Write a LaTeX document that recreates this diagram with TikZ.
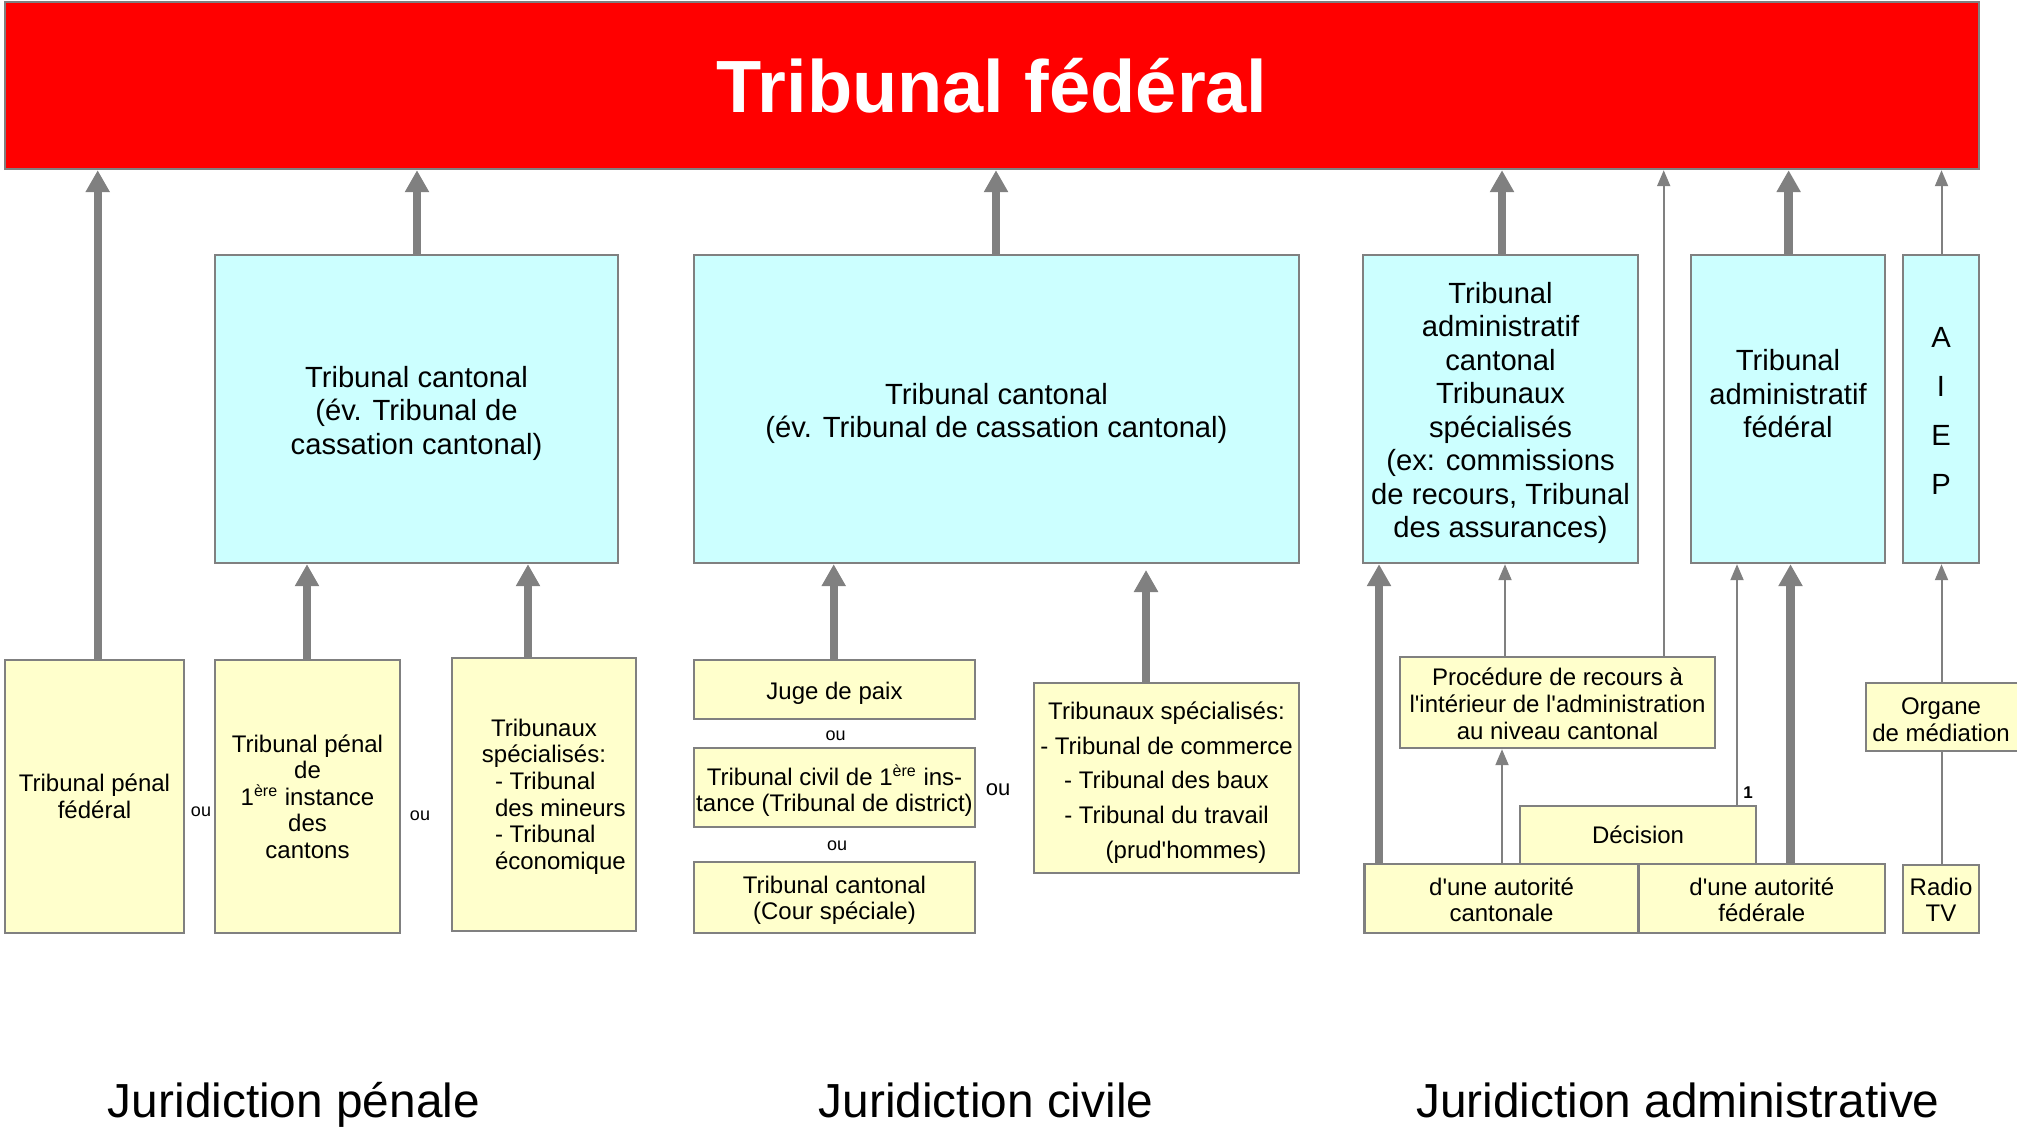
\documentclass[tikz,border=0pt]{standalone}
\usepackage{fontspec}
\setmainfont{Liberation Sans}
\usetikzlibrary{arrows.meta}
\definecolor{bordergray}{RGB}{128,128,128}
\definecolor{arrowgray}{RGB}{128,128,128}
\definecolor{boxyellow}{RGB}{255,255,204}
\definecolor{boxcyan}{RGB}{204,255,255}
\definecolor{titlered}{RGB}{255,0,0}
\newcommand{\sq}{\textquotesingle}
% box from corner (x1,y1) to corner (x2,y2), in pixels; optional: text lowered by [pt]
\newcommand{\mybox}[8][0]{%
  \pgfmathsetmacro{\mbcx}{(#4+#6)/2}\pgfmathsetmacro{\mbcy}{(#5+#7)/2}%
  \pgfmathsetmacro{\mbw}{(#6-#4)*0.5}\pgfmathsetmacro{\mbh}{(#7-#5)*0.5}%
  \node[#2, minimum width=\mbw pt, minimum height=\mbh pt] (#3) at (\mbcx,\mbcy) {};
  \node[#2, draw=none, fill=none, minimum width=0pt, minimum height=0pt, yshift=-#1pt] (#3t) at (#3.center) {#8};}
\begin{document}
\begin{tikzpicture}[x=0.5pt,y=-0.5pt,
  box/.style={draw=bordergray, line width=1.2pt, inner sep=0pt, align=center, text=black},
  ybox/.style={box, fill=boxyellow, font=\fontsize{12}{13.3}\selectfont},
  cbox/.style={box, fill=boxcyan, font=\fontsize{14.6}{16.75}\selectfont},
  thickarrow/.style={draw=arrowgray, line width=4.2pt, -{Triangle[width=11.5pt,length=11pt]}},
  thinarrow/.style={draw=arrowgray, line width=1pt, -{Triangle[width=6.5pt,length=8pt]}},
  thinline/.style={draw=arrowgray, line width=1pt},
  oulabel/.style={inner sep=0pt, font=\fontsize{9}{10}\selectfont},
  domainlabel/.style={inner sep=0pt, anchor=base, font=\fontsize{23.9}{26}\selectfont},
  ]
\useasboundingbox (0,0) rectangle (2017,1128);

% title
\mybox{box, fill=titlered, text=white, font=\bfseries\fontsize{37}{40}\selectfont}{tf}{5}{2}{1979}{169}{Tribunal fédéral}

% upper (cyan) boxes
\mybox[2.2]{cbox}{c1}{215}{255}{618}{563}{Tribunal cantonal\\(év. Tribunal de\\cassation cantonal)}
\mybox[2.2]{cbox}{c2}{694}{255}{1299}{563}{Tribunal cantonal\\(év. Tribunal de cassation cantonal)}
\mybox[2]{cbox}{c3}{1363}{255}{1638}{563}{Tribunal\\administratif\\cantonal\\Tribunaux\\spécialisés\\(ex: commissions\\de recours, Tribunal\\des assurances)}
\mybox[7.5]{cbox}{c4}{1691}{255}{1885}{563}{}
\node[inner sep=0pt, align=center, font=\fontsize{14.6}{16.75}\selectfont] (c4x) at (1788,394) {Tribunal\\administratif\\fédéral};
\mybox[1]{cbox, font=\fontsize{14.6}{24.35}\selectfont}{c5}{1903}{255}{1979}{563}{A\\I\\E\\P}

% lower (yellow) boxes: penal
\mybox{ybox}{pf}{5}{660}{184}{933}{Tribunal pénal\\fédéral}
\mybox{ybox}{pi}{215}{660}{400}{933}{Tribunal pénal\\de\\1\textsuperscript{ère} instance\\des\\cantons}
\mybox[1]{ybox}{ps}{452}{658}{636}{931}{Tribunaux\\spécialisés:\\
  \hspace*{17pt}\makebox[66pt][l]{- Tribunal}\\
  \hspace*{17pt}\makebox[66pt][l]{des mineurs}\\
  \hspace*{17pt}\makebox[66pt][l]{- Tribunal}\\
  \hspace*{17pt}\makebox[66pt][l]{économique}}

% civil
\mybox[1.9]{ybox}{jp}{694}{660}{975}{719}{Juge de paix}
\mybox[1.6]{ybox}{tc}{694}{748}{975}{827}{Tribunal civil de 1\textsuperscript{ère} ins-\\tance (Tribunal de district)}
\mybox[1.3]{ybox}{cc}{694}{862}{975}{933}{Tribunal cantonal\\(Cour spéciale)}
\mybox[2.2]{ybox, font=\fontsize{12}{17.35}\selectfont}{cs}{1034}{683}{1299}{873}{Tribunaux spécialisés:\\- Tribunal de commerce\\- Tribunal des baux\\- Tribunal du travail\\\hspace*{19.5pt}(prud\sq hommes)}

% administrative
\mybox[0.6]{ybox}{proc}{1400}{657}{1715}{748}{Procédure de recours à\\l\sq intérieur de l\sq administration\\au niveau cantonal}
\mybox[1.3]{ybox}{org}{1866}{683}{2024}{751}{\hspace*{-4pt}Organe\\\hspace*{-4pt}de médiation}
\mybox{ybox}{dec}{1520}{806}{1756}{864}{Décision}
\mybox[0.6]{ybox}{ac}{1364.5}{864}{1638.6}{933}{d\sq une autorité\\cantonale}
\mybox[0.6]{ybox}{af}{1638.6}{864}{1885}{933}{d\sq une autorité\\fédérale}
\mybox[0.3]{ybox}{radio}{1903}{865}{1979}{933}{Radio\\TV}

% x positions of connectors
\coordinate (xa) at (97.7,0);
\coordinate (xb) at (417,0);
\coordinate (xc) at (996,0);
\coordinate (xd) at (1502,0);
\coordinate (xe) at (1663.7,0);
\coordinate (xf) at (1788.6,0);
\coordinate (xg) at (1941.5,0);
\coordinate (xh) at (307,0);
\coordinate (xi) at (528,0);
\coordinate (xj) at (833.7,0);
\coordinate (xk) at (1146,570);
\coordinate (xl) at (1379,0);
\coordinate (xm) at (1505,0);
\coordinate (xn) at (1502,0);
\coordinate (xo) at (1737,0);
\coordinate (xp) at (1790.5,0);

% connectors to Tribunal federal
\draw[thickarrow] (xa |- pf.north) -- (xa |- tf.south);
\draw[thickarrow] (xb |- c1.north) -- (xb |- tf.south);
\draw[thickarrow] (xc |- c2.north) -- (xc |- tf.south);
\draw[thickarrow] (xd |- c3.north) -- (xd |- tf.south);
\draw[thinarrow]  (xe |- proc.north) -- (xe |- tf.south);
\draw[thickarrow] (xf |- c4.north) -- (xf |- tf.south);
\draw[thinarrow]  (xg |- c5.north) -- (xg |- tf.south);

% connectors to second level
\draw[thickarrow] (xh |- pi.north) -- (xh |- c1.south);
\draw[thickarrow] (xi |- ps.north) -- (xi |- c1.south);
\draw[thickarrow] (xj |- jp.north) -- (xj |- c2.south);
\draw[thickarrow] (xk |- cs.north) -- (xk);
\draw[thickarrow] (xl |- ac.north) -- (xl |- c3.south);
\draw[thinarrow]  (xm |- proc.north) -- (xm |- c3.south);
\draw[thinarrow]  (xn |- ac.north) -- (xn |- proc.south);
\draw[thinarrow]  (xo |- dec.north) -- (xo |- c4.south);
\draw[thickarrow] (xp |- af.north) -- (xp |- c4.south);
\draw[thinarrow]  (xg |- org.north) -- (xg |- c5.south);
\draw[thinline]   (xg |- radio.north) -- (xg |- org.south);

% labels
\node[inner sep=0pt, font=\bfseries\fontsize{8.5}{10}\selectfont] (one) at (1748,793) {1};
\node[oulabel] (ou1) at (201,812) {ou};
\node[oulabel] (ou2) at (420,815.5) {ou};
\node[oulabel] (ou3) at (835.5,736) {ou};
\node[oulabel] (ou4) at (837,846) {ou};
\node[oulabel, font=\fontsize{11}{12}\selectfont] (ou5) at (998,790) {ou};

\node[domainlabel] (dp) at (294,1117) {Juridiction pénale};
\node[domainlabel] (dcv) at (986,1117) {Juridiction civile};
\node[domainlabel] (dad) at (1678,1117) {Juridiction administrative};
\end{tikzpicture}
\end{document}
